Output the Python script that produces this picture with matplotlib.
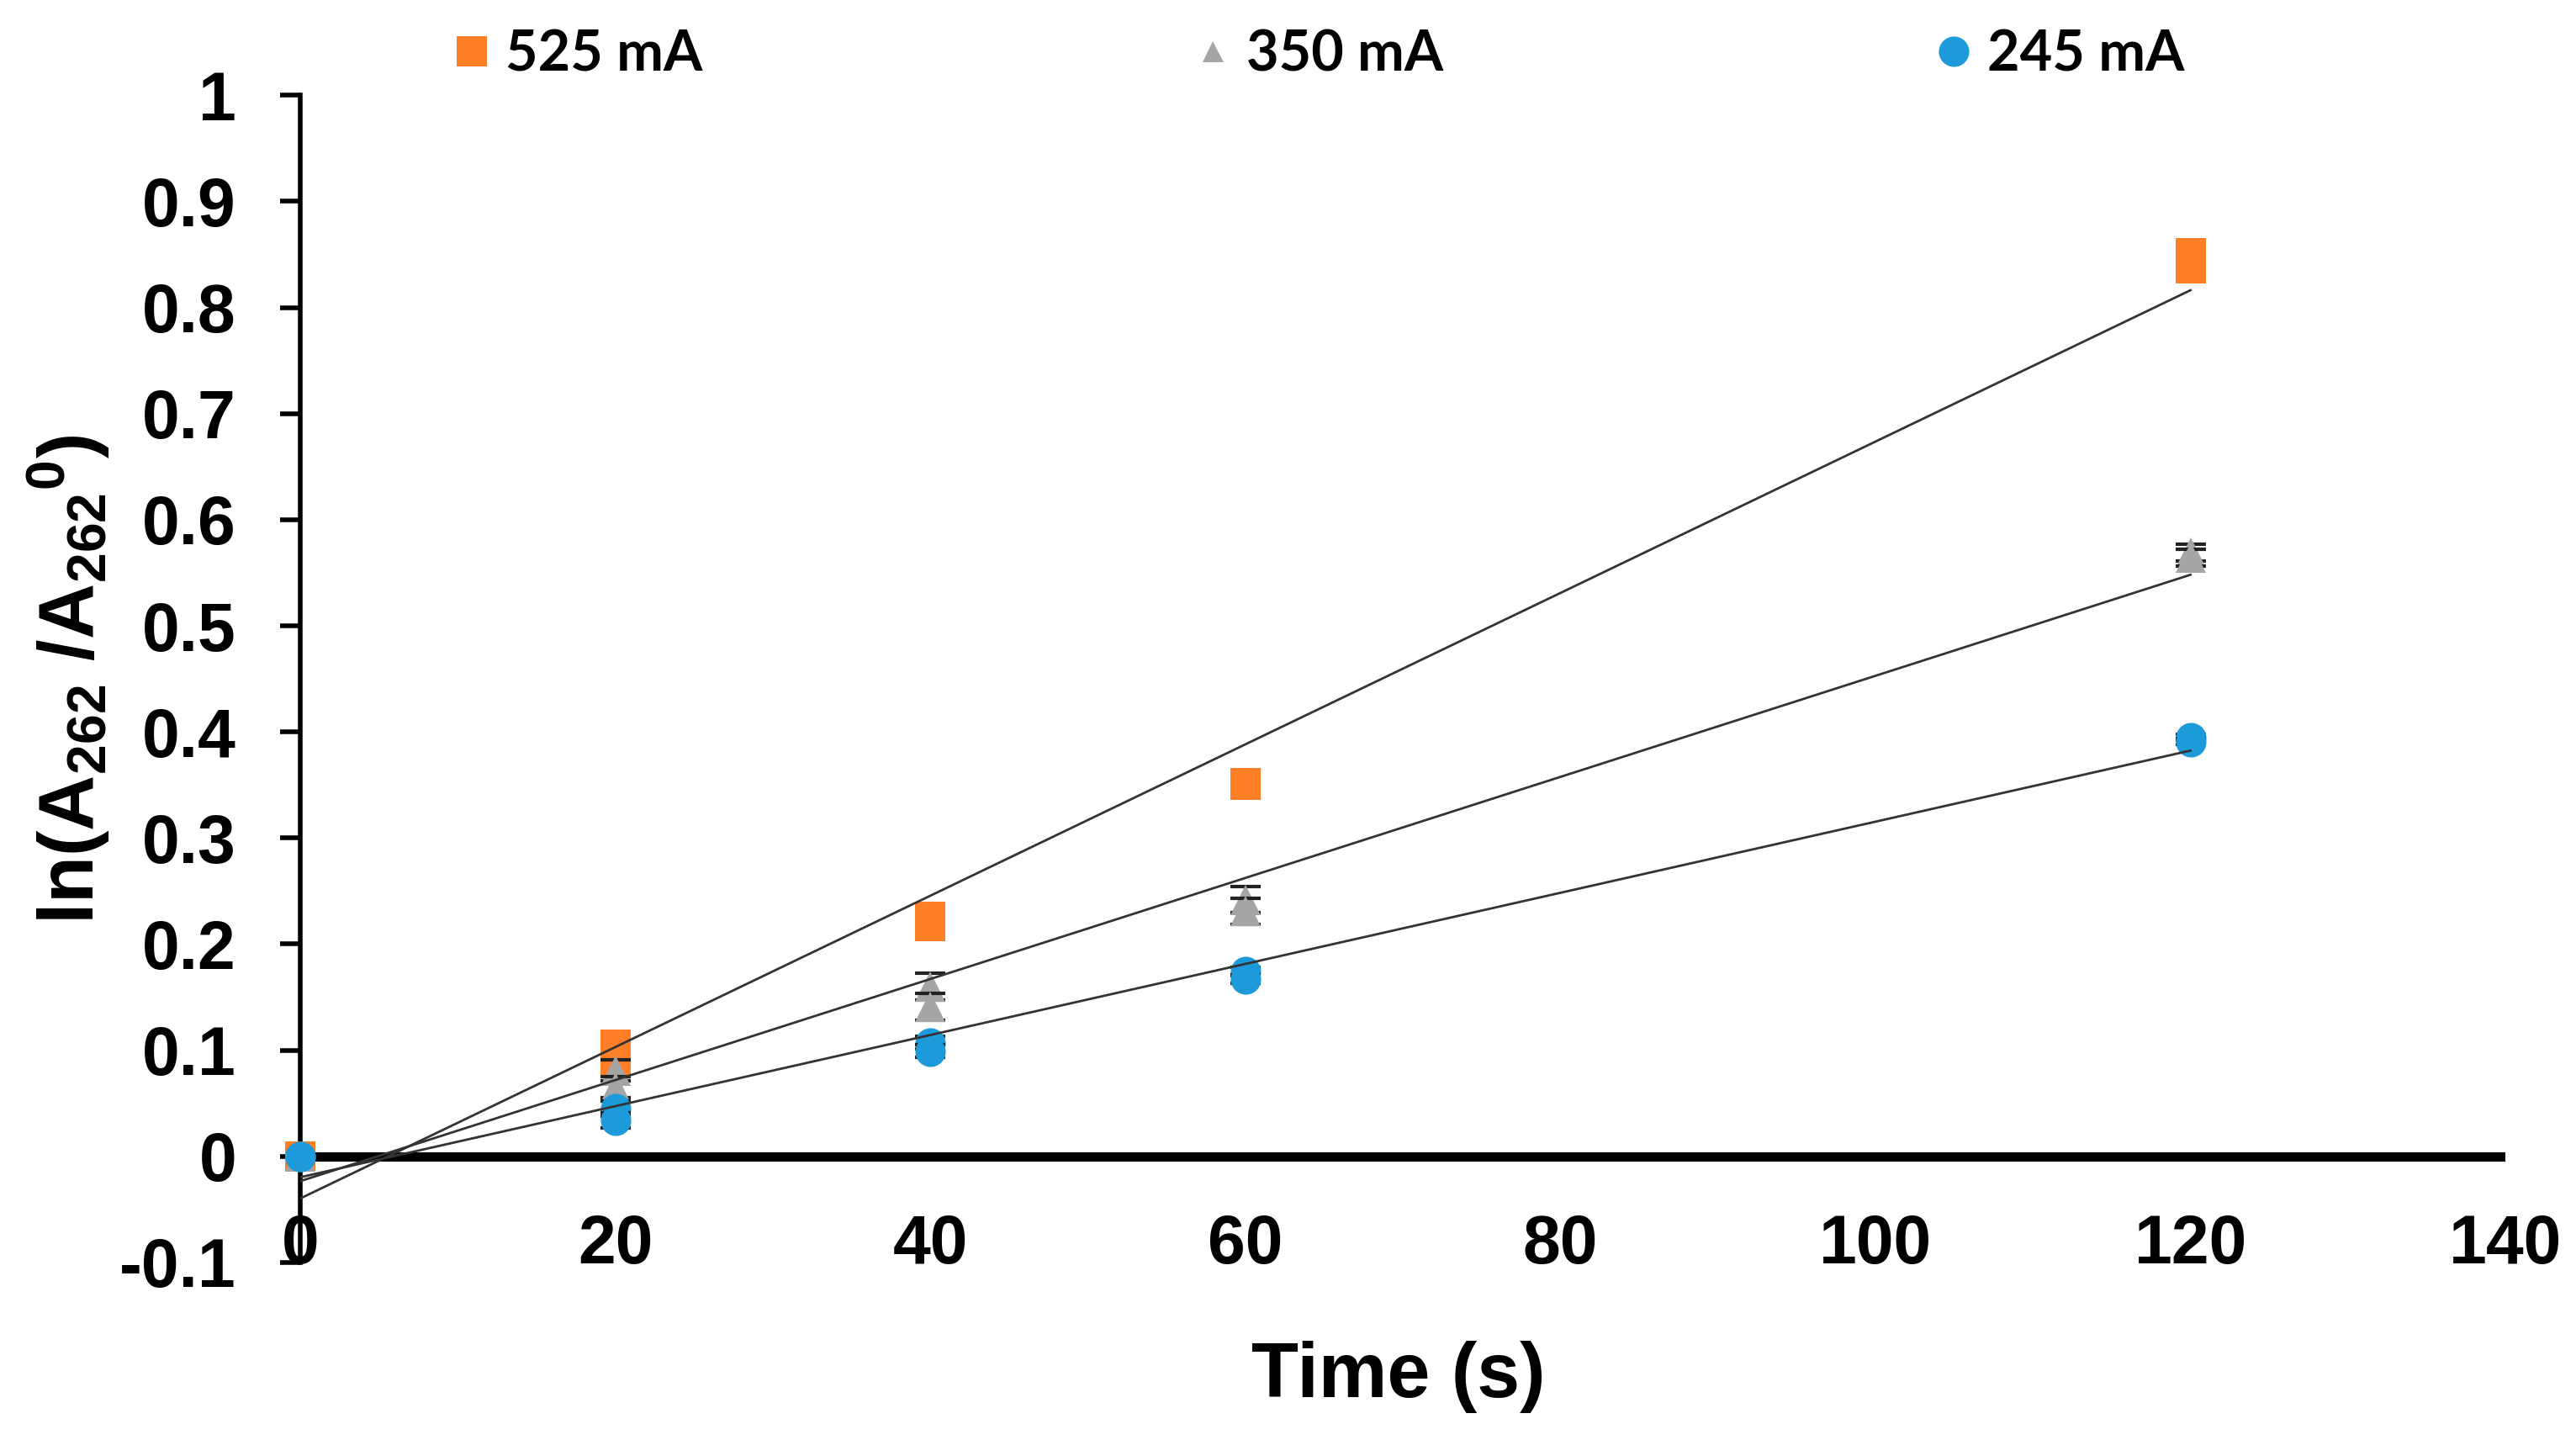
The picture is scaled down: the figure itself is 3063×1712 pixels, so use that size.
import numpy as np
import matplotlib
matplotlib.use("Agg")
import matplotlib.pyplot as plt
from matplotlib.lines import Line2D

plt.rcParams['font.family'] = ['Liberation Sans', 'DejaVu Sans']
plt.rcParams['font.weight'] = 'bold'
plt.rcParams['mathtext.fontset'] = 'custom'
plt.rcParams['mathtext.rm'] = 'Liberation Sans:bold'
plt.rcParams['mathtext.it'] = 'Liberation Sans:bold'
plt.rcParams['mathtext.bf'] = 'Liberation Sans:bold'

# time points (s)
time = [0, 20, 40, 60, 120]

# two replicate readings per point and error bar half-height
o_rep1 = [0.0, 0.105, 0.226, 0.352, 0.851]
o_rep2 = [0.0, 0.090, 0.217, 0.350, 0.837]
o_err = [0.002, 0.005, 0.006, 0.004, 0.008]

g_rep1 = [0.0, 0.081, 0.160, 0.242, 0.569]
g_rep2 = [0.0, 0.065, 0.141, 0.231, 0.564]
g_err = [0.002, 0.010, 0.013, 0.012, 0.008]

b_rep1 = [0.0, 0.045, 0.107, 0.174, 0.395]
b_rep2 = [0.0, 0.034, 0.099, 0.167, 0.391]
b_err = [0.001, 0.007, 0.006, 0.004, 0.003]

labels = ['525 mA', '350 mA', '245 mA']
colors = ['#FF7F27', '#A5A5A5', '#1C9AD9']
markers = ['s', '^', 'o']

series = [(o_rep1, o_rep2, o_err), (g_rep1, g_rep2, g_err), (b_rep1, b_rep2, b_err)]

fig = plt.figure(figsize=(30.63, 17.12), dpi=100)
ax = fig.add_axes([0.1167, 0.1233, 0.9726 - 0.1167, 0.9338 - 0.1233])

t = np.array(time)
z = 3
for i, (r1, r2, err) in enumerate(series):
    for rep in (r1, r2):
        # error bar first, marker on top (as the spreadsheet draws them)
        ax.errorbar(t, rep, yerr=err, fmt='none', ecolor='#222222',
                    elinewidth=2, capsize=13, capthick=3, zorder=z)
        ax.plot(t, rep, linestyle='none', marker=markers[i], color=colors[i],
                markersize=26, markeredgewidth=0, zorder=z + 0.5, clip_on=False)
        z += 1
    # linear trendline through all replicates
    xs = np.concatenate([t, t])
    ys = np.concatenate([r1, r2])
    k, c = np.polyfit(xs, ys, 1)
    ax.plot([0, 120], [c, k * 120 + c], color='#333333', lw=2, zorder=20)

ax.axhline(0, color='black', lw=8, zorder=2)

ax.set_xlim(0, 140)
ax.set_ylim(-0.1, 1.0)
ax.set_xticks(np.arange(0, 141, 20))
ax.set_yticks(np.round(np.arange(-0.1, 1.01, 0.1), 1))
ax.set_yticklabels(['-0.1', '0', '0.1', '0.2', '0.3', '0.4', '0.5', '0.6',
                    '0.7', '0.8', '0.9', '1'])

for s in ['top', 'right', 'bottom']:
    ax.spines[s].set_visible(False)
ax.spines['left'].set_linewidth(4)

ax.tick_params(axis='y', direction='out', length=17, width=4, pad=38,
               labelsize=58)
ax.tick_params(axis='x', length=0, pad=-42, labelsize=58)
for lab in ax.get_xticklabels() + ax.get_yticklabels():
    lab.set_fontweight('bold')

fig.text(0.543, 0.044, 'Time (s)', ha='center', va='center',
         fontsize=66, fontweight='bold')

fig.text(0.0268, 0.528, r'ln(A$_{262}$ /A$_{262}{}^{0}$)', rotation=90,
         ha='center', va='center', fontsize=66, fontweight='bold')

handles = [Line2D([], [], marker=markers[i], color=colors[i], linestyle='none',
                  markersize=26 if i != 1 else 18, markeredgewidth=0)
           for i in range(3)]
fig.legend(handles, labels, loc='center left', bbox_to_anchor=(0.1767, 0.962),
           ncol=3, frameon=False, borderpad=0, borderaxespad=0,
           handlelength=0.6, handletextpad=0.3, columnspacing=8.8,
           prop={'family': ['Lato', 'DejaVu Sans'], 'weight': 'bold', 'size': 48})

fig.savefig('out.png', dpi=100, facecolor='white')
